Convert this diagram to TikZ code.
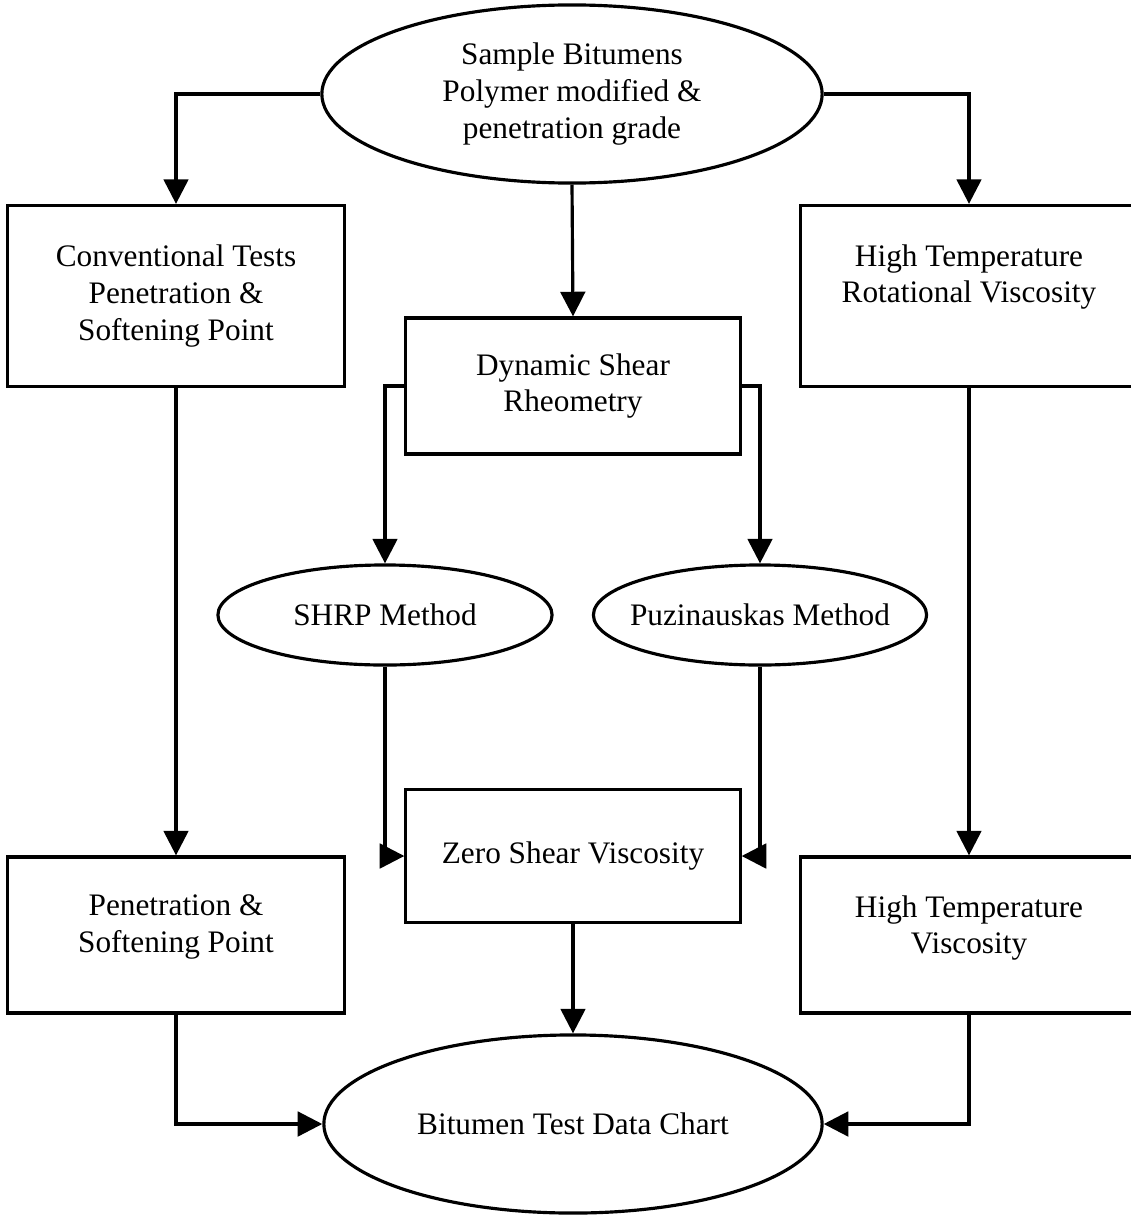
\documentclass[tikz,border=0pt]{standalone}
\usepackage{fontspec}
\setmainfont{Liberation Serif}
\usetikzlibrary{arrows.meta,shapes.geometric}

\tikzset{
  box/.style={draw,line width=0.9pt,inner sep=0pt,align=center,
              font=\fontsize{8.9}{10.5}\selectfont},
  oval/.style={ellipse,draw,line width=0.9pt,inner sep=0pt,align=center,
               font=\fontsize{8.9}{10.5}\selectfont},
  txt/.style={align=center,font=\fontsize{8.9}{10.5}\selectfont},
  arr/.style={line width=0.9pt,-{Triangle[length=7pt,width=7pt]}}
}

\begin{document}
\begin{tikzpicture}[x=0.01cm,y=-0.01cm]
  \useasboundingbox (0,0) rectangle (1130,1215);

  % top and bottom ovals
  \node[oval,minimum width=5.0cm,minimum height=1.78cm] (sample) at (572,94)
       {Sample Bitumens\\Polymer modified \&\\penetration grade};
  \node[oval,minimum width=4.98cm,minimum height=1.78cm] (chart) at (573,1124)
       {Bitumen Test Data Chart};

  % left column
  \node[box,minimum width=3.36cm,minimum height=1.81cm] (conv) at (176,296)
       {Conventional Tests\\Penetration \&\\Softening Point};
  \node[box,minimum width=3.36cm,minimum height=1.56cm] (pen) at (176,935) {};
  \node[txt] (pentext) at (176,927) {Penetration \&\\Softening Point};

  % right column
  \node[box,minimum width=3.36cm,minimum height=1.81cm] (rot) at (969,296) {};
  \node[txt] (rottext) at (969,277) {High Temperature\\Rotational Viscosity};
  \node[box,minimum width=3.36cm,minimum height=1.56cm] (htv) at (969,935) {};
  \node[txt] (htvtext) at (969,928) {High Temperature\\Viscosity};

  % middle column
  \node[box,minimum width=3.34cm,minimum height=1.36cm] (dsr) at (573,386)
       {Dynamic Shear\\Rheometry};
  \node[oval,minimum width=3.34cm,minimum height=1.0cm] (shrp) at (385,615)
       {SHRP Method};
  \node[oval,minimum width=3.33cm,minimum height=1.0cm] (puz) at (760,615) {};
  \node[txt] (puztext) at (760,615) {Puzinauskas Method};
  \node[box,minimum width=3.34cm,minimum height=1.33cm] (zsv) at (573,856)
       {Zero Shear Viscosity};

  % connectors
  \draw[arr] (sample.west) -| (conv.north);
  \draw[arr] (sample.east) -| (rot.north);
  \draw[arr] (sample.south) -- (dsr.north);
  \draw[arr] (dsr.west) -| (shrp.north);
  \draw[arr] (dsr.east) -| (puz.north);
  \draw[arr] (shrp.south) |- (zsv.west);
  \draw[arr] (puz.south) |- (zsv.east);
  \draw[arr] (conv.south) -- (pen.north);
  \draw[arr] (rot.south) -- (htv.north);
  \draw[arr] (zsv.south) -- (chart.north);
  \draw[arr] (pen.south) |- (chart.west);
  \draw[arr] (htv.south) |- (chart.east);
\end{tikzpicture}
\end{document}
